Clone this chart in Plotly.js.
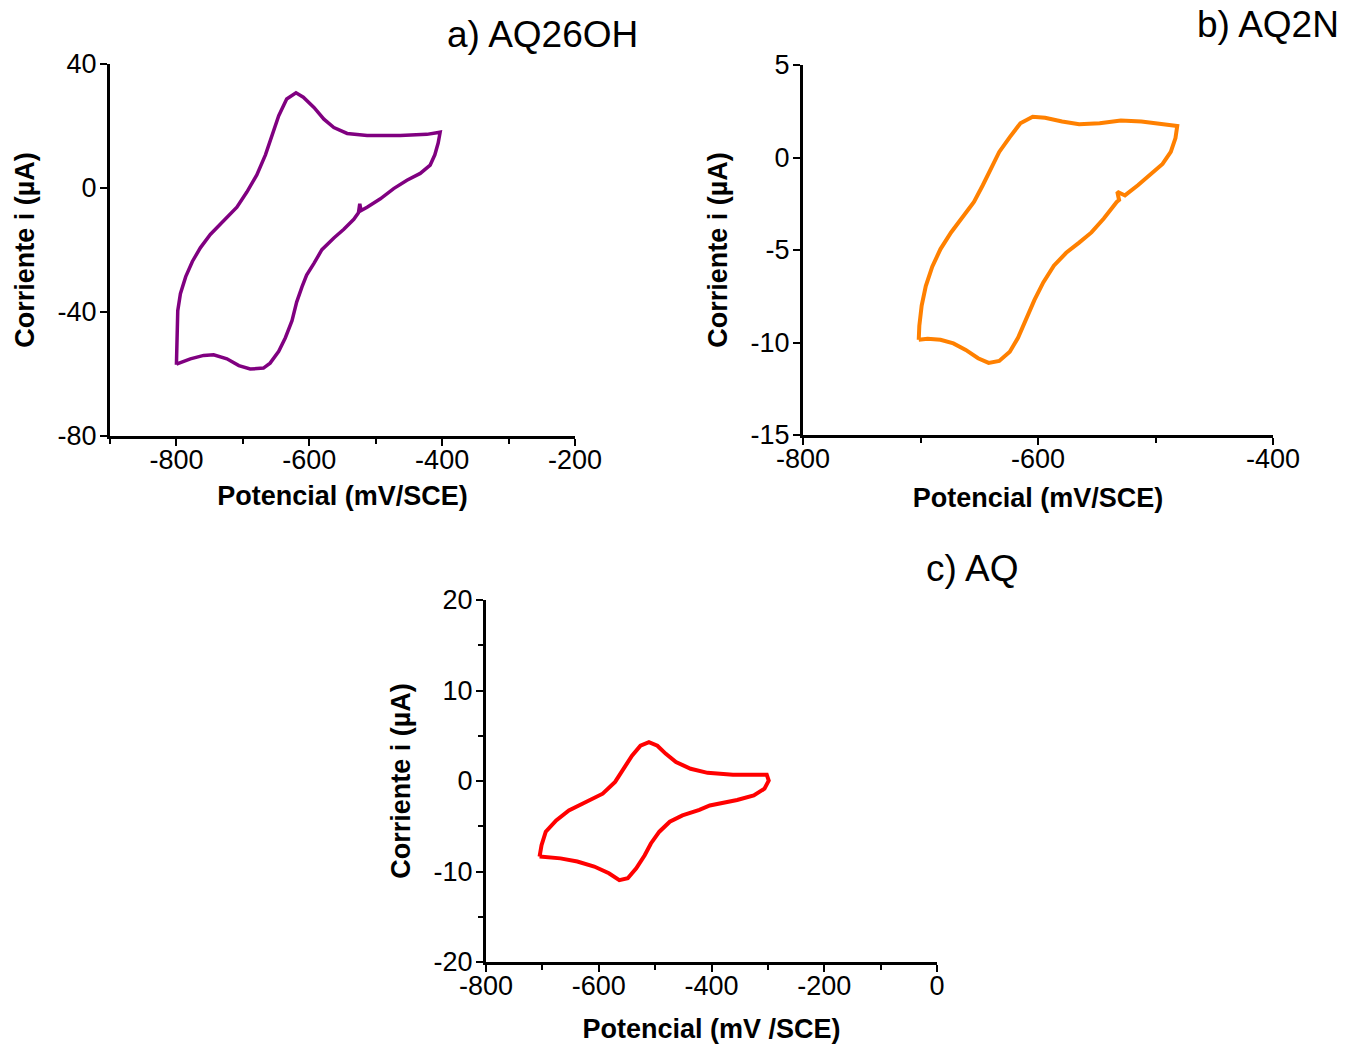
<!DOCTYPE html>
<html>
<head>
<meta charset="utf-8">
<script src="https://cdn.plot.ly/plotly-3.0.1.min.js"></script>
<style>html,body{margin:0;padding:0;background:#fff;}#chart{width:1346px;height:1044px;}</style>
</head>
<body>
<div id="chart"></div>
<script>
// ---- Panel a) AQ26OH ----
const aqOH_potential = [-800,-799,-798,-794,-786,-776,-764,-749,-729,-709,-694,-679,-666,-656,-646,-634,-620,-609,-593,-578,-563,-543,-513,-463,-423,-403,
  -406,-411,-418,-433,-453,-473,-493,-513,-522,-524,-526,-533,-548,-563,-581,-593,-604,-611,-619,-626,-636,-646,-659,-669,-689,-706,-724,-744,-759,-779,-800];
const aqOH_current = [-57.0,-47.2,-39.6,-34.1,-28.6,-23.7,-19.3,-15.0,-10.6,-6.2,-1.3,4.2,10.7,17.3,23.3,28.7,30.7,29.3,26.0,22.2,19.5,17.6,16.9,16.9,17.3,18.0,
  14.5,10.7,7.4,4.7,2.5,-0.2,-3.5,-6.2,-7.3,-5.1,-8.0,-10.1,-13.3,-16.1,-19.9,-24.3,-28.1,-31.9,-36.8,-42.8,-48.3,-52.7,-56.5,-58.1,-58.4,-57.3,-55.1,-53.8,-54.0,-55.1,-56.8];

// ---- Panel b) AQ2N ----
const aq2N_potential = [-701.5,-701,-699,-695.5,-690,-683,-674,-663,-654.5,-647,-640,-633,-624,-615,-604.5,-594,-579.5,-565,-547.5,-529.5,-512,-494,-481.5,
  -483,-487,-494,-504.5,-515,-526,-532.5,-531,-533,-544,-554.5,-565,-576,-586.5,-595.5,-603,-610,-617,-624,-633,-642,-651,-661.5,-672,-683,-694,-701.5];
const aq2N_current = [-9.85,-9.1,-8.0,-6.95,-5.9,-4.95,-4.05,-3.15,-2.4,-1.5,-0.6,0.3,1.1,1.85,2.2,2.15,1.95,1.8,1.85,2.0,1.95,1.8,1.7,
  1.05,0.3,-0.35,-0.95,-1.5,-2.05,-1.85,-2.3,-2.4,-3.3,-4.05,-4.6,-5.15,-5.85,-6.75,-7.7,-8.75,-9.75,-10.5,-11.0,-11.1,-10.85,-10.4,-10.05,-9.85,-9.8,-9.85];

// ---- Panel c) AQ ----
const aq_potential = [-705,-701.5,-694,-675.5,-653,-623,-593,-571,-556,-541,-526,-511,-496,-481,-463,-437,-407,-362,-302,
  -298.5,-306,-325,-354.5,-384,-403,-421.5,-451.5,-474,-492.5,-507.5,-518.5,-533.5,-548.5,-563.5,-582,-608,-638,-668,-705];
const aq_current = [-8.35,-7.1,-5.6,-4.35,-3.25,-2.3,-1.4,-0.1,1.35,2.8,3.9,4.3,3.9,3.0,2.1,1.35,0.9,0.7,0.7,
  0.05,-0.85,-1.6,-2.1,-2.5,-2.7,-3.2,-3.8,-4.5,-5.6,-6.9,-8.2,-9.65,-10.75,-10.95,-10.2,-9.45,-8.9,-8.55,-8.35];

// ---- Tick values / labels ----
const a_xticks = [-800,-600,-400,-200];
const a_yticks = [40,0,-40,-80];
const b_xticks = [-800,-600,-400];
const b_yticks = [5,0,-5,-10,-15];
const c_xticks = [-800,-600,-400,-200,0];
const c_yticks = [20,10,0,-10,-20];

const panelTitles = ['a) AQ26OH','b) AQ2N','c) AQ'];
const xTitles = ['Potencial (mV/SCE)','Potencial (mV/SCE)','Potencial (mV /SCE)'];
const yTitle = 'Corriente i (µA)';

const W = 1346, H = 1044;
const FONT = '"Liberation Sans", Arial, sans-serif';
function px2x(p){return p/W;}
function px2y(p){return 1-p/H;}

function axisBase(){
  return {
    showline:true, linecolor:'#000', linewidth:3, mirror:false,
    showgrid:false, zeroline:false,
    ticks:'outside', ticklen:7, tickwidth:2, tickcolor:'#000',
    tickfont:{family:FONT, size:27, color:'#000'},
    automargin:false, fixedrange:true
  };
}
function xAxis(domain, range, ticks, anchor, title, minorDt, standoff){
  const a = axisBase();
  Object.assign(a, {domain:domain, range:range, tickmode:'array', tickvals:ticks, ticktext:ticks.map(String), anchor:anchor,
    ticklabelstandoff:-9,
    title:{text:title, font:{family:FONT, size:27, color:'#000', weight:'bold'}, standoff:standoff}});
  if(minorDt) a.minor = {dtick:minorDt, ticks:'outside', ticklen:5, tickwidth:2, tickcolor:'#000', showgrid:false};
  return a;
}
function yAxis(domain, range, ticks, anchor, minorDt){
  const a = axisBase();
  Object.assign(a, {domain:domain, range:range, tickmode:'array', tickvals:ticks, ticktext:ticks.map(String), anchor:anchor,
    ticklabelstandoff:-2,
    title:{text:yTitle, font:{family:FONT, size:27, color:'#000', weight:'bold'}, standoff:16}});
  if(minorDt) a.minor = {dtick:minorDt, ticks:'outside', ticklen:5, tickwidth:2, tickcolor:'#000', showgrid:false};
  return a;
}

const traces = [
  {x:aqOH_potential, y:aqOH_current, xaxis:'x', yaxis:'y', mode:'lines', line:{color:'#800080', width:3.5}, hoverinfo:'skip'},
  {x:aq2N_potential, y:aq2N_current, xaxis:'x2', yaxis:'y2', mode:'lines', line:{color:'#FF8000', width:4}, hoverinfo:'skip'},
  {x:aq_potential, y:aq_current, xaxis:'x3', yaxis:'y3', mode:'lines', line:{color:'#FF0000', width:4}, hoverinfo:'skip'}
];

const layout = {
  width:W, height:H, margin:{l:0,r:0,t:0,b:0},
  paper_bgcolor:'#fff', plot_bgcolor:'rgba(0,0,0,0)', showlegend:false,
  font:{family:FONT, color:'#000'},
  xaxis: xAxis([px2x(110), px2x(575)], [-900,-200], a_xticks, 'y', xTitles[0], 100, 12),
  yaxis: yAxis([px2y(436), px2y(64)], [-80,40], a_yticks, 'x', null),
  xaxis2: xAxis([px2x(803), px2x(1273)], [-800,-400], b_xticks, 'y2', xTitles[1], 100, 15),
  yaxis2: yAxis([px2y(435), px2y(65)], [-15,5], b_yticks, 'x2', null),
  xaxis3: xAxis([px2x(486), px2x(937)], [-800,0], c_xticks, 'y3', xTitles[2], 100, 19),
  yaxis3: yAxis([px2y(962), px2y(600)], [-20,20], c_yticks, 'x3', 5),
  annotations:[
    {text:panelTitles[0], xref:'paper', yref:'paper', x:px2x(542), y:px2y(35), xanchor:'center', yanchor:'middle', showarrow:false, font:{family:FONT, size:37, color:'#000'}},
    {text:panelTitles[1], xref:'paper', yref:'paper', x:px2x(1268), y:px2y(25), xanchor:'center', yanchor:'middle', showarrow:false, font:{family:FONT, size:37, color:'#000'}},
    {text:panelTitles[2], xref:'paper', yref:'paper', x:px2x(972), y:px2y(568), xanchor:'center', yanchor:'middle', showarrow:false, font:{family:FONT, size:37, color:'#000'}}
  ]
};

Plotly.newPlot('chart', traces, layout, {staticPlot:true, displayModeBar:false});
</script>
</body>
</html>
